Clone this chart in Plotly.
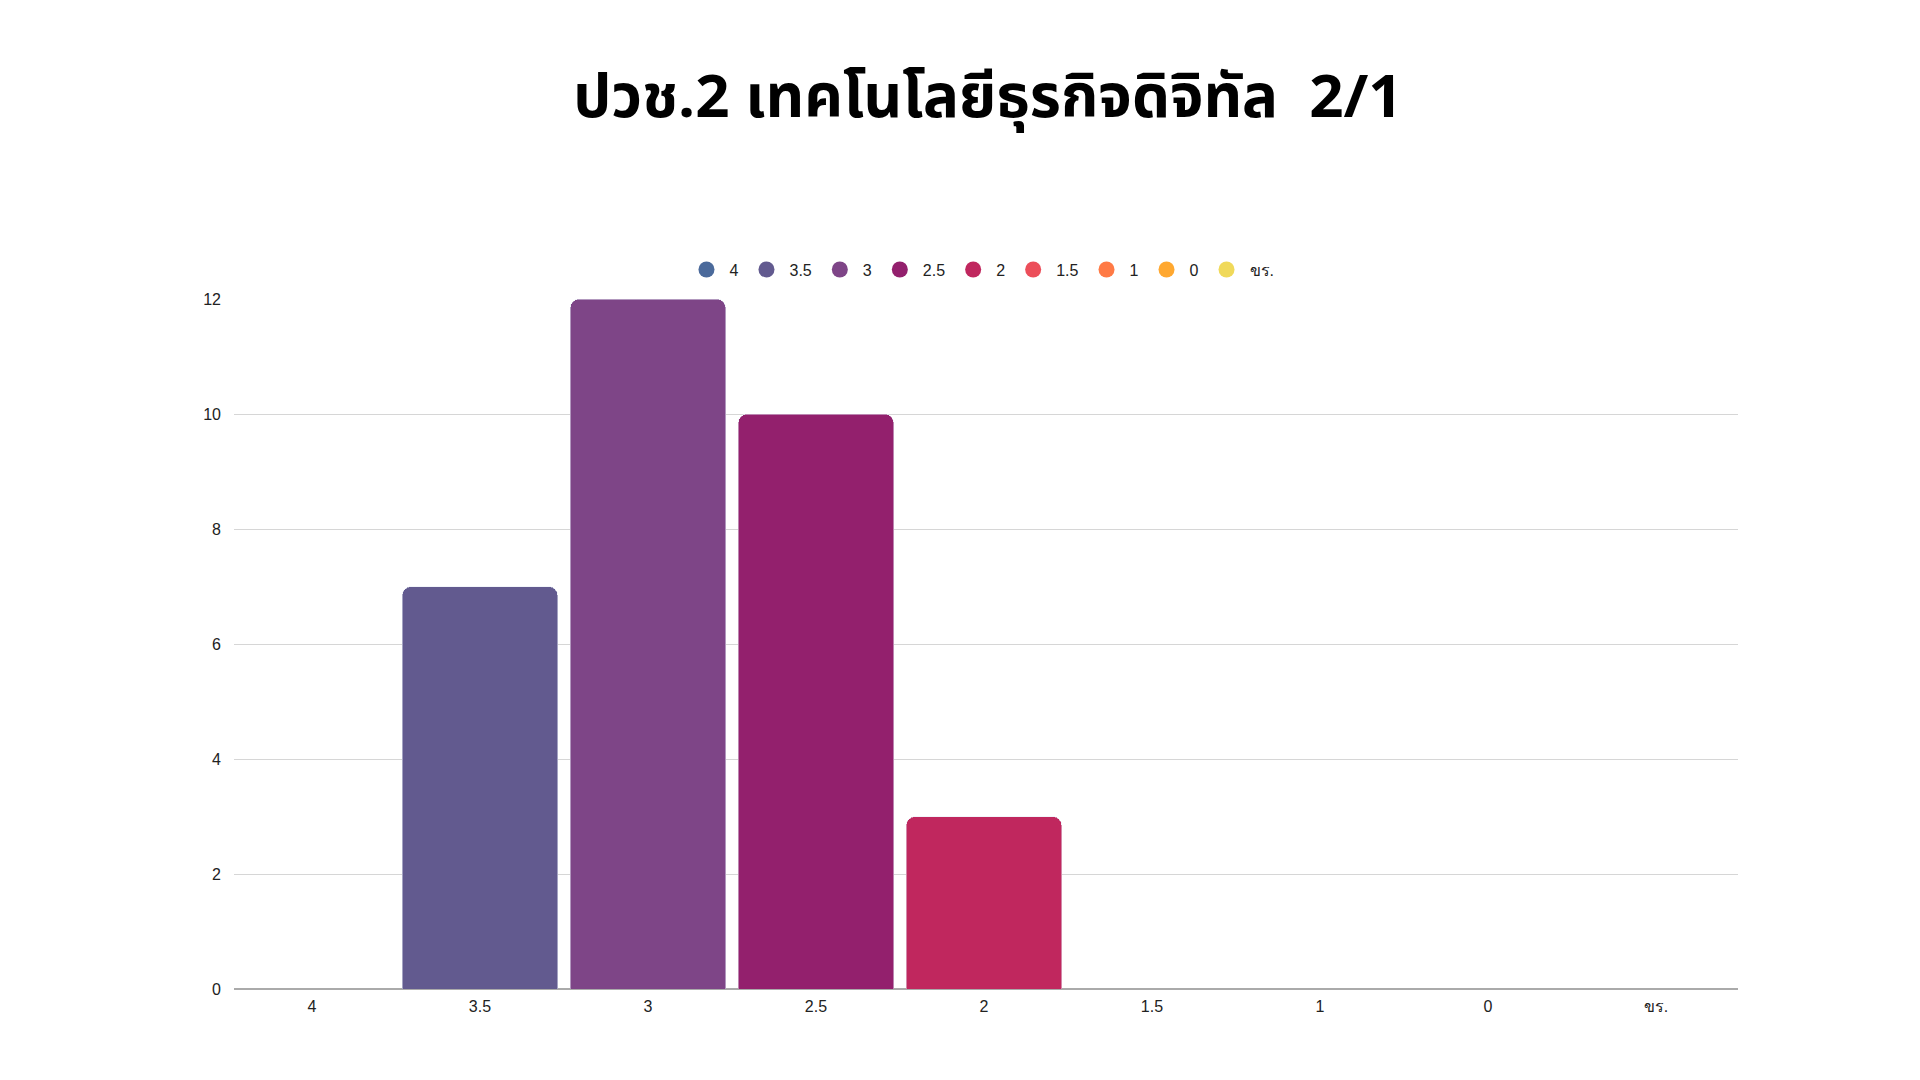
import plotly.graph_objects as go

categories = ["4", "3.5", "3", "2.5", "2", "1.5", "1", "0", "ขร."]
counts = [0, 7, 12, 10, 3, 0, 0, 0, 0]
colors = ["#4B6A9B", "#625A8F", "#7E4587", "#93206D", "#C0275E",
          "#EC4E5A", "#FF7A45", "#FFA830", "#F0D95A"]
title_text = "ปวช.2 เทคโนโลยีธุรกิจดิจิทัล  2/1"

fig = go.Figure()
for cat, val, col in zip(categories, counts, colors):
    fig.add_trace(go.Bar(x=[cat], y=[val], marker_color=col, showlegend=False,
                         name=cat))
for cat, col in zip(categories, colors):
    fig.add_trace(go.Scatter(x=[None], y=[None], mode="markers", name=cat,
                             marker=dict(color=col, size=16, symbol="circle")))

fig.update_layout(
    width=1920, height=1080,
    paper_bgcolor="white", plot_bgcolor="white",
    barmode="stack", bargap=0.075, barcornerradius=9,
    margin=dict(l=226, r=190, t=291, b=99),
    title=dict(text="<b>" + title_text + "</b>", x=0.5104, xanchor="center",
               y=0.9187, yanchor="middle",
               font=dict(family="Noto Sans Thai, Noto Sans, sans-serif", size=60, color="black")),
    legend=dict(orientation="h", x=0.497, xanchor="center", y=1.018, yanchor="bottom",
                font=dict(family="Liberation Sans, Arial, sans-serif", size=16, color="#222"),
                itemwidth=36, traceorder="normal"),
    font=dict(family="Liberation Sans, Arial, sans-serif", size=16, color="#222"),
)
fig.update_xaxes(categoryorder="array", categoryarray=categories, range=[-0.464, 8.488],
                 showgrid=False, showline=False, ticks="", ticklabelstandoff=6,
                 tickfont=dict(size=16))
fig.update_yaxes(range=[0, 12], dtick=2, showgrid=True, gridcolor="#d6d6d6", gridwidth=1,
                 zeroline=True, zerolinecolor="#aaaaaa", zerolinewidth=1.5,
                 showline=False, ticks="", ticklabelstandoff=12, tickfont=dict(size=16))

fig.write_html("out.html")
